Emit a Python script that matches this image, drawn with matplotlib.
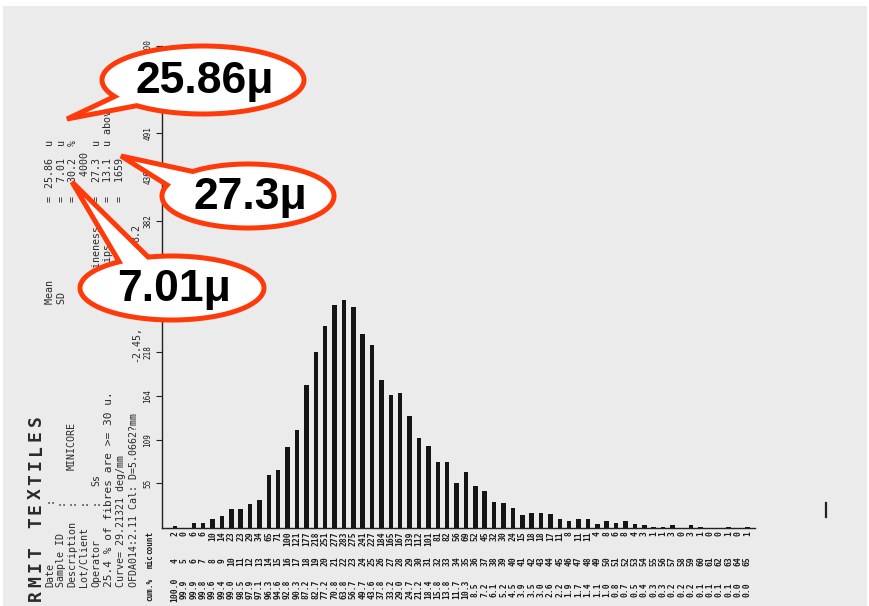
import numpy as np
import matplotlib
matplotlib.use('Agg')
import matplotlib.pyplot as plt
from matplotlib.patches import Polygon, Rectangle

# histogram data (OFDA fibre diameter counts)
diam = np.arange(4, 66)
counts = [2, 0, 6, 6, 10, 14, 23, 23, 29, 34,
          65, 71, 100, 121, 177, 218, 251, 277, 283, 275,
          241, 227, 184, 165, 167, 139, 112, 101, 81, 82,
          56, 69, 52, 45, 32, 30, 24, 15, 18, 18,
          17, 11, 8, 11, 11, 4, 8, 6, 8, 4,
          3, 1, 1, 3, 0, 3, 1, 0, 0, 1, 0, 1]
yticks = [55, 109, 164, 218, 273, 327, 382, 436, 491, 546, 600]

# printed header, lower block: (column x, text, start y, size)
header_low = [
    (50, 'Date', 587, 7.2), (50, ':', 503, 7.2),
    (61, 'Sample ID', 587, 7.2), (61, ':', 505, 7.2),
    (72, 'Description', 587, 7.2), (72, ':', 505, 7.2), (72, 'MINICORE', 470, 7.2),
    (84, 'Lot/Client', 587, 7.2), (84, ':', 505, 7.2),
    (96, 'Operator', 587, 7.2), (96, ':', 505, 7.2), (96, 'Ss', 486, 7.2),
    (109, '25.4 % of fibres are >= 30 u.', 587, 8),
    (121, 'Curve= 29.21321 deg/mm', 587, 7.2),
    (134, 'OFDA014:2.11 Cal: D=5.0662?mm', 587, 7.2),
    (136, '-2.45,', 362, 7.2), (136, '8.2', 242, 7.2),
]
title_letters = 'RMIT TEXTILES'

# upper block: (column x, label, value)
stat_x = [50, 62, 73, 85, 97, 108, 120]
stat_labels = ['Mean', 'SD', '', '', 'Spin fineness', 'Fibre tips', 'Number']
stat_values = ['25.86  u', ' 7.01  u', ' 30.2  %', '  4000', ' 27.3  u', ' 13.1  u above', ' 1659']

# callouts: text, centre, radii, tail tip, tail angles (deg)
call_text = ['25.86μ', '27.3μ', '7.01μ']
call_centre = [(203, 80), (248, 196), (172, 288)]
call_radii = [(101, 34), (86, 32), (92, 32)]
call_tip = [(67, 119), (121, 156), (72, 182)]
call_angles = [(131, 151), (200, 230), (235, 255)]

W, H = 870, 606
mono = 'DejaVu Sans Mono'
ink = '#1c1c1c'
grey_ink = '#2a2a2a'


def px_box(x0, y0, x1, y1):
    return [x0 / W, 1 - y1 / H, (x1 - x0) / W, (y1 - y0) / H]


fig = plt.figure(figsize=(8.7, 6.06), dpi=100)

# scanned page background
bg = fig.add_axes([0, 0, 1, 1], zorder=0)
bg.set_xlim(0, W)
bg.set_ylim(H, 0)
bg.axis('off')
bg.add_patch(Rectangle((3, 6), 864, 600, color='#ebebeb', lw=0))

# histogram
ax = fig.add_axes(px_box(162, 45.6, 755, 527.5), zorder=1)
ax.set_facecolor('none')
ax.bar(diam, counts, width=0.48, color='#151515')
ax.set_xlim(2.615, 65.8)
ax.set_ylim(0, 600)
for s in ['top', 'right']:
    ax.spines[s].set_visible(False)
for s in ['left', 'bottom']:
    ax.spines[s].set_color('#222')
    ax.spines[s].set_linewidth(1.0)
ax.set_xticks([])
ax.set_yticks(yticks)
ax.set_yticklabels([str(v) for v in yticks], rotation=90, va='center',
                   fontsize=5.5, family=mono, color=ink)
ax.tick_params(axis='y', length=4, width=0.8, pad=3, color='#222')

# printed rows under the bars: count, mic, cum.%
total = sum(counts)
above = total - np.concatenate([[0], np.cumsum(counts)[:-1]])
cum = 100.0 * above / total
for d, c, p in zip(diam, counts, cum):
    kw = dict(xycoords=('data', 'axes fraction'), textcoords='offset pixels',
              rotation=90, ha='center', fontsize=5.8, family=mono,
              fontweight='bold', color=ink)
    ax.annotate(str(c), xy=(d, 0), xytext=(0, -4), va='top', **kw)
    ax.annotate(str(d), xy=(d, 0), xytext=(0, -33.5), va='center', **kw)
    ax.annotate('%.1f' % p, xy=(d, 0), xytext=(0, -62), va='center', **kw)

# overlay in pixel coords for header text and callouts
ov = fig.add_axes([0, 0, 1, 1], zorder=3)
ov.set_xlim(0, W)
ov.set_ylim(H, 0)
ov.axis('off')

ov.text(150, 531, 'count', rotation=90, ha='center', va='top', fontsize=5.5,
        family=mono, fontweight='bold', color=ink)
ov.text(150, 561, 'mic', rotation=90, ha='center', va='center', fontsize=5.5,
        family=mono, fontweight='bold', color=ink)
ov.text(150, 589, 'cum.%', rotation=90, ha='center', va='center', fontsize=5.5,
        family=mono, fontweight='bold', color=ink)

# letter-spaced title, one glyph at a time
for i, ch in enumerate(title_letters):
    ov.text(36, 596 - i * 14.6, ch, rotation=90, ha='center', va='center',
            fontsize=13, family=mono, fontweight='bold', color=grey_ink)
for x, t, y, fs in header_low:
    ov.text(x, y, t, rotation=90, ha='center', va='bottom', fontsize=fs,
            family=mono, color=grey_ink)

for x, lab, val in zip(stat_x, stat_labels, stat_values):
    ov.text(x, 196, lab.ljust(17) + '=', rotation=90, ha='center', va='top',
            fontsize=7.2, family=mono, color=grey_ink)
    ov.text(x, 188, val, rotation=90, ha='center', va='bottom',
            fontsize=7.2, family=mono, color=grey_ink)

# scan speck at the right
ov.plot([826, 826], [503, 517], color='#222', lw=1.6)

# speech-bubble callouts, drawn above the printed text
red = '#ff3a0a'
for t, (cx, cy), (rx, ry), tip, (a1, a2) in zip(call_text, call_centre, call_radii,
                                                call_tip, call_angles):
    th = np.radians(np.linspace(a2, a1 + 360, 200))
    pts = np.column_stack([cx + rx * np.cos(th), cy + ry * np.sin(th)])
    pts = np.vstack([pts, tip])
    ov.add_patch(Polygon(pts, closed=True, facecolor='white', edgecolor=red,
                         lw=3.6, joinstyle='miter', zorder=6))
    ov.text(cx + 2, cy + 1, t, ha='center', va='center', fontsize=32,
            fontweight='bold', family='Liberation Sans', color='black', zorder=7)

fig.savefig('out.png', dpi=100)
